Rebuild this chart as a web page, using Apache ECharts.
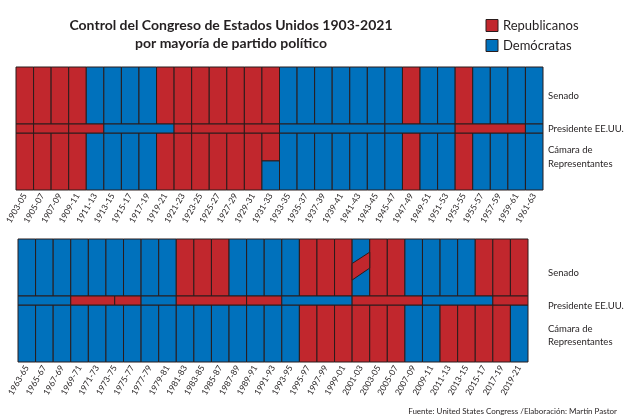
<!DOCTYPE html>
<html><head><meta charset="utf-8">
<script src="https://cdn.jsdelivr.net/npm/echarts@6/dist/echarts.min.js"></script>
<style>html,body{margin:0;padding:0;background:#fff}#c{width:625px;height:418px}</style>
</head><body><div id="c"></div>
<script>
// ---- Data ----
const termsTop = ['1903-05','1905-07','1907-09','1909-11','1911-13','1913-15','1915-17','1917-19','1919-21','1921-23','1923-25','1925-27','1927-29','1929-31','1931-33','1933-35','1935-37','1937-39','1939-41','1941-43','1943-45','1945-47','1947-49','1949-51','1951-53','1953-55','1955-57','1957-59','1959-61','1961-63'];
const termsBot = ['1963-65','1965-67','1967-69','1969-71','1971-73','1973-75','1975-77','1977-79','1979-81','1981-83','1983-85','1985-87','1987-89','1989-91','1991-93','1993-95','1995-97','1997-99','1999-01','2001-03','2003-05','2005-07','2007-09','2009-11','2011-13','2013-15','2015-17','2017-19','2019-21'];
const senateTop = ['R','R','R','R','D','D','D','D','R','R','R','R','R','R','R','D','D','D','D','D','D','D','R','D','D','R','D','D','D','D'];
const houseTop  = ['R','R','R','R','D','D','D','D','R','R','R','R','R','R','R','D','D','D','D','D','D','D','R','D','D','R','D','D','D','D'];
const senateBot = ['D','D','D','D','D','D','D','D','D','R','R','R','D','D','D','D','R','R','R','D','R','R','D','D','D','D','R','R','R'];
const houseBot  = ['D','D','D','D','D','D','D','D','D','D','D','D','D','D','D','D','R','R','R','R','R','R','D','D','R','R','R','R','D'];
// presidencies: [start year, end year, party]
const presTop = [[1903,1905,'R'],[1905,1909,'R'],[1909,1913,'R'],[1913,1921,'D'],[1921,1923,'R'],[1923,1929,'R'],[1929,1933,'R'],[1933,1945,'D'],[1945,1953,'D'],[1953,1961,'R'],[1961,1963,'D']];
const presBot = [[1963,1969,'D'],[1969,1974,'R'],[1974,1977,'R'],[1977,1981,'D'],[1981,1989,'R'],[1989,1993,'R'],[1993,2001,'D'],[2001,2009,'R'],[2009,2017,'D'],[2017,2021,'R']];
// House 1931-33: Republican share of the cell on top, Democrats below
const houseSplit1931 = {term:'1931-33', top:'R', bottom:'D', topShare:0.49};
// Senate 2001-03: control changed mid-term (diagonal band)
const senateSplit2001 = {term:'2001-03', base:'D', band:'R', leftLow:0.28, leftHigh:0.57, rightLow:0.49, rightHigh:0.77};

const RED = '#C1272D', BLUE = '#0071BC', EDGE = '#2a1c1c';
const col = p => p === 'R' ? RED : BLUE;
// row extents in y units
const HOUSE = [0, 57], PRES = [57, 66], SENATE = [66, 123];

function buildCells(terms, senate, house, pres, startYear) {
  const out = [];
  terms.forEach((t, i) => {
    out.push([i, i + 1, SENATE[0], SENATE[1], senate[i]]);
    if (t === houseSplit1931.term) {
      const mid = HOUSE[0] + (HOUSE[1] - HOUSE[0]) * (1 - houseSplit1931.topShare);
      out.push([i, i + 1, mid, HOUSE[1], houseSplit1931.top]);
      out.push([i, i + 1, HOUSE[0], mid, houseSplit1931.bottom]);
    } else {
      out.push([i, i + 1, HOUSE[0], HOUSE[1], house[i]]);
    }
  });
  pres.forEach(p => {
    out.push([(p[0] - startYear) / 2, (p[1] - startYear) / 2, PRES[0], PRES[1], p[2]]);
  });
  return out;
}
const cellsTop = buildCells(termsTop, senateTop, houseTop, presTop, 1903);
const cellsBot = buildCells(termsBot, senateBot, houseBot, presBot, 1963);

function renderCell(cells) {
  return function (params, api) {
    const d = cells[params.dataIndex];
    const a = api.coord([d[0], d[3]]);
    const b = api.coord([d[1], d[2]]);
    return {
      type: 'rect',
      shape: { x: a[0], y: a[1], width: b[0] - a[0], height: b[1] - a[1] },
      style: { fill: col(d[4]), stroke: EDGE, lineWidth: 1 }
    };
  };
}

const iSplit = termsBot.indexOf(senateSplit2001.term);
const sh = SENATE[1] - SENATE[0];
const bandData = [[iSplit, iSplit + 1,
  SENATE[0] + sh * senateSplit2001.leftLow, SENATE[0] + sh * senateSplit2001.leftHigh,
  SENATE[0] + sh * senateSplit2001.rightLow, SENATE[0] + sh * senateSplit2001.rightHigh]];

const FONT = 'Lato';
const chart = echarts.init(document.getElementById('c'));
const catAxis = (g, data) => ({
  type: 'category', gridIndex: g, data: data, boundaryGap: true,
  axisLine: { show: false }, axisTick: { show: false },
  axisLabel: { rotate: 60, fontSize: 8.5, margin: 4, color: '#231f20', fontFamily: FONT, interval: 0 }
});
chart.setOption({
  animation: false,
  textStyle: { fontFamily: FONT },
  grid: [
    { left: 16, top: 67, width: 527, height: 123 },
    { left: 18, top: 239, width: 510, height: 123 }
  ],
  xAxis: [
    catAxis(0, termsTop),
    { type: 'value', gridIndex: 0, min: 0, max: termsTop.length, show: false },
    catAxis(1, termsBot),
    { type: 'value', gridIndex: 1, min: 0, max: termsBot.length, show: false }
  ],
  yAxis: [
    { type: 'value', gridIndex: 0, min: 0, max: SENATE[1], show: false },
    { type: 'value', gridIndex: 1, min: 0, max: SENATE[1], show: false }
  ],
  series: [
    { type: 'custom', xAxisIndex: 1, yAxisIndex: 0, data: cellsTop.map(d => d.slice(0, 4)), renderItem: renderCell(cellsTop) },
    { type: 'custom', xAxisIndex: 3, yAxisIndex: 1, data: cellsBot.map(d => d.slice(0, 4)), renderItem: renderCell(cellsBot) },
    { type: 'custom', xAxisIndex: 3, yAxisIndex: 1, z: 5, data: bandData,
      renderItem: function (params, api) {
        const d = bandData[params.dataIndex];
        const p1 = api.coord([d[0], d[2]]), p2 = api.coord([d[0], d[3]]);
        const p3 = api.coord([d[1], d[5]]), p4 = api.coord([d[1], d[4]]);
        return { type: 'polygon', shape: { points: [p1, p2, p3, p4] },
          style: { fill: col(senateSplit2001.band), stroke: EDGE, lineWidth: 1 } };
      } }
  ],
  graphic: [
    { type: 'text', x: 231, y: 25, style: { text: 'Control del Congreso de Estados Unidos 1903-2021', font: 'bold 14px ' + FONT, fill: '#231f20', textAlign: 'center', textVerticalAlign: 'middle' } },
    { type: 'text', x: 231, y: 43, style: { text: 'por mayoría de partido político', font: 'bold 14px ' + FONT, fill: '#231f20', textAlign: 'center', textVerticalAlign: 'middle' } },
    { type: 'rect', shape: { x: 486, y: 19.5, width: 12, height: 12 }, style: { fill: RED, stroke: EDGE, lineWidth: 1 } },
    { type: 'rect', shape: { x: 486, y: 39.5, width: 12, height: 12 }, style: { fill: BLUE, stroke: EDGE, lineWidth: 1 } },
    { type: 'text', x: 503, y: 26, style: { text: 'Republicanos', font: '13px ' + FONT, fill: '#231f20', textVerticalAlign: 'middle' } },
    { type: 'text', x: 503, y: 46, style: { text: 'Demócratas', font: '13px ' + FONT, fill: '#231f20', textVerticalAlign: 'middle' } },
    { type: 'text', x: 548, y: 96, style: { text: 'Senado', font: '9.5px ' + FONT, fill: '#231f20', textVerticalAlign: 'middle' } },
    { type: 'text', x: 548, y: 129, style: { text: 'Presidente EE.UU.', font: '9.5px ' + FONT, fill: '#231f20', textVerticalAlign: 'middle' } },
    { type: 'text', x: 548, y: 157, style: { text: 'Cámara de\nRepresentantes', font: '9.5px ' + FONT, lineHeight: 13.5, fill: '#231f20', textVerticalAlign: 'middle' } },
    { type: 'text', x: 548, y: 273, style: { text: 'Senado', font: '9.5px ' + FONT, fill: '#231f20', textVerticalAlign: 'middle' } },
    { type: 'text', x: 548, y: 306, style: { text: 'Presidente EE.UU.', font: '9.5px ' + FONT, fill: '#231f20', textVerticalAlign: 'middle' } },
    { type: 'text', x: 548, y: 335.5, style: { text: 'Cámara de\nRepresentantes', font: '9.5px ' + FONT, lineHeight: 13.5, fill: '#231f20', textVerticalAlign: 'middle' } },
    { type: 'text', x: 617, y: 411, style: { text: 'Fuente: United States Congress /Elaboración: Martín Pastor', font: '8px ' + FONT, fill: '#231f20', textAlign: 'right', textVerticalAlign: 'middle' } }
  ]
});
</script></body></html>
